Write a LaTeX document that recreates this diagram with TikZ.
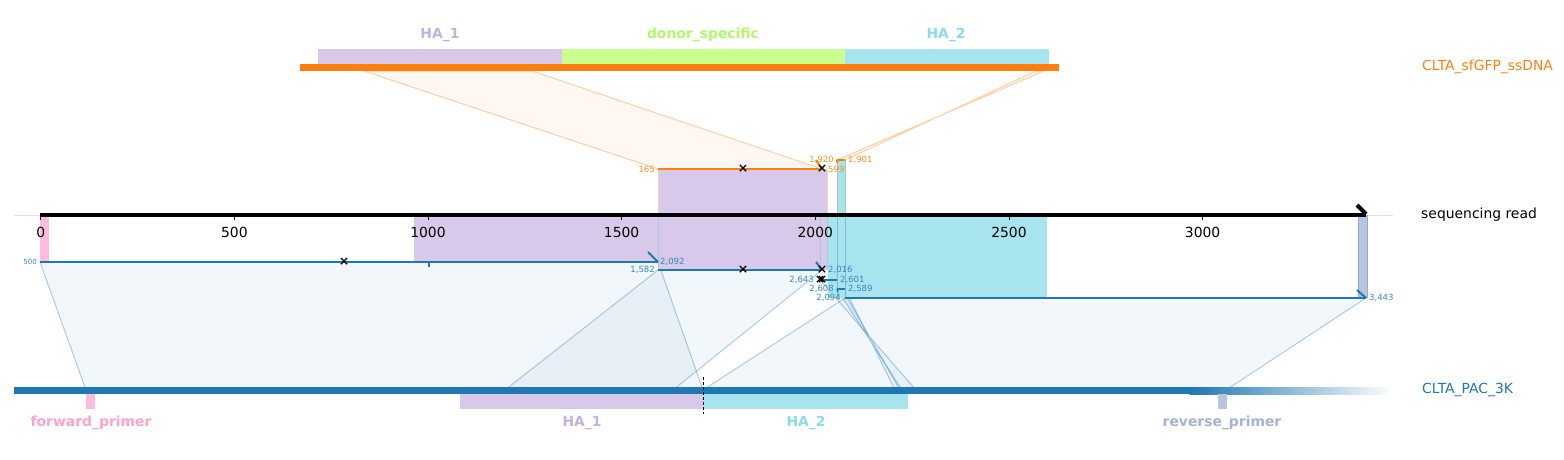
\documentclass[tikz,border=0pt]{standalone}
\usepackage{fontspec}
\setmainfont{DejaVu Sans}
\definecolor{orng}{HTML}{FF7F0E}
\definecolor{pacb}{HTML}{1F77B4}
\definecolor{haone}{HTML}{D8C8EA}
\definecolor{haonel}{HTML}{C5B0E5}
\definecolor{donor}{HTML}{C8FF8E}
\definecolor{donorl}{HTML}{B3F76A}
\definecolor{hatwo}{HTML}{A8E4EE}
\definecolor{hatwol}{HTML}{8BDBE8}
\definecolor{fwd}{HTML}{FFBBDD}
\definecolor{fwdl}{HTML}{FFA0D2}
\definecolor{rev}{HTML}{BAC4DE}
\definecolor{revl}{HTML}{A4B2D4}
\definecolor{smallb}{HTML}{3A87C0}
\definecolor{smallo}{HTML}{FF8C26}
\tikzset{
  biglab/.style={font=\fontsize{13.9}{16}\selectfont, inner sep=0pt},
  featlab/.style={font=\bfseries\fontsize{13.9}{16}\selectfont, inner sep=0pt},
  smalllab/.style={font=\fontsize{8.5}{10}\selectfont, inner sep=0pt},
  connor/.style={fill=orng, fill opacity=0.06, draw=orng, draw opacity=0.35, line width=1pt},
  connbl/.style={fill=pacb, fill opacity=0.06, draw=pacb, draw opacity=0.35, line width=1pt},
  alnb/.style={draw=pacb, line width=2pt},
  alno/.style={draw=orng, line width=2pt},
  xm/.style={font=\bfseries\fontsize{12.5}{13}\selectfont, inner sep=0pt, text=black},
}
\begin{document}
\begin{tikzpicture}[x=1pt,y=-1pt]
\useasboundingbox (0,0) rectangle (1564,459);
% ---------- coordinates ----------
\coordinate (s165) at (364,71);
\coordinate (s599) at (532,71);
\coordinate (s1920) at (1044,71);
\coordinate (s1901) at (1036,71);
\coordinate (o1l) at (658,169);
\coordinate (o1r) at (822,169);
\coordinate (o2l) at (837,160);
\coordinate (o2r) at (845,160);
\coordinate (a1l) at (40,262);
\coordinate (a1r) at (658,262);
\coordinate (a2l) at (658,270);
\coordinate (a2r) at (822,270);
\coordinate (a3l) at (820,280);
\coordinate (a3r) at (837,280);
\coordinate (a4l) at (837,289);
\coordinate (a4r) at (845,289);
\coordinate (a5l) at (845,298);
\coordinate (a5r) at (1366,298);
\coordinate (p500) at (86,390);
\coordinate (p2092) at (703,390);
\coordinate (p1582) at (505,390);
\coordinate (p2016) at (673,390);
\coordinate (p2643) at (916,390);
\coordinate (p2601) at (900,390);
\coordinate (p2608) at (902,390);
\coordinate (p2589) at (895,390);
\coordinate (p2094) at (703,390);
\coordinate (p3443) at (1226,390);

% ---------- baseline ----------
\draw[black!12, line width=0.8pt] (14,215) -- (1393,215);

% ---------- connectors ----------
\filldraw[connor] (s165) -- (o1l) -- (o1r) -- (s599) -- cycle;
\filldraw[connor] (s1920) -- (o2l) -- (o2r) -- (s1901) -- cycle;
\filldraw[connbl] (a1l) -- (p500) -- (p2092) -- (a1r) -- cycle;
\filldraw[connbl] (a2l) -- (p1582) -- (p2016) -- (a2r) -- cycle;
\filldraw[connbl] (a3l) -- (p2643) -- (p2601) -- (a3r) -- cycle;
\filldraw[connbl] (a4l) -- (p2608) -- (p2589) -- (a4r) -- cycle;
\filldraw[connbl] (a5l) -- (p2094) -- (p3443) -- (a5r) -- cycle;

% ---------- top track ----------
\fill[haone] (318,49) rectangle (562,64);
\fill[donor] (562,49) rectangle (845,64);
\fill[hatwo] (845,49) rectangle (1049,64);
\fill[orng] (300,64) rectangle (1059,71);
\node[featlab, text=haonel] (tha1) at (440,35) {HA\_1};
\node[featlab, text=donorl] (tdon) at (703,35) {donor\_specific};
\node[featlab, text=hatwol] (tha2) at (946,35) {HA\_2};
\node[biglab, text=orng, anchor=west] (lss) at (1422,67) {CLTA\_sfGFP\_ssDNA};

% ---------- read track features ----------
\fill[fwd] (40,215) rectangle (49,262);
\fill[haone] (414,215) rectangle (827,262);
\fill[haone] (658,169) rectangle (827,270);
\fill[hatwo] (828,215) rectangle (1047,298);
\fill[hatwo] (837,160) rectangle (845,298);
\fill[rev] (1358,215) rectangle (1367,298);
\draw[orng!35, line width=0.8pt] (658,169) -- (658,215) (827,169) -- (827,215);
\draw[pacb!40, line width=0.8pt] (658,215) -- (658,270) (827,215) -- (827,270) (820,215) -- (820,270);
\draw[hatwol!80!orng, line width=0.8pt] (837,160) -- (837,215) (845,160) -- (845,215);
\draw[pacb!55, line width=0.8pt] (837,215) -- (837,298) (845,215) -- (845,298);
\draw[rev!70!pacb, line width=0.8pt] (1358,215) -- (1358,298) (1367,215) -- (1367,298);

% ---------- read axis ----------
\draw[black, line width=4.5pt] (40,215) -- (1366,215);
\draw[black, line width=4pt] (1357,205) -- (1366,214);
\foreach \v/\n in {0/t0,500/t500,1000/t1000,1500/t1500,2000/t2000,2500/t2500,3000/t3000} {
  \draw[black, line width=0.8pt] ({40.7+0.3873*\v},215) -- ({40.7+0.3873*\v},220);
  \node[biglab] (\n) at ({40.7+0.3873*\v},232) {\v};
}
\node[biglab, anchor=west] (lread) at (1421,215) {sequencing read};

% ---------- alignment lines ----------
\draw[alno] (o1l) -- (o1r);
\draw[alno] (o2l) -- (o2r);
\draw[alno] (816,160) -- (o1r);
\draw[orng, line width=1.5pt] (o2l) -- ++(0,3);
\draw[alnb] (a1l) -- (a1r);
\draw[alnb] (a2l) -- (a2r);
\draw[alnb] (a3l) -- (a3r);
\draw[alnb] (a4l) -- (a4r);
\draw[alnb] (a5l) -- (a5r);
\draw[alnb] (648,252) -- (a1r);
\draw[alnb] (816,262) -- (a2r);
\draw[alnb] (1357,290) -- (a5r);
\draw[pacb, line width=1.5pt] (a4l) -- ++(1,3);
\draw[pacb, line width=1.5pt] (429,262) -- (429,267);

% mismatch marks
\node[xm] (x1) at (344,262) {×};
\node[xm] (x2) at (743,270) {×};
\node[xm] (x3) at (822,270) {×};
\node[xm] (x4) at (820,280) {×};
\node[xm] (x5) at (822,280) {×};
\node[xm] (x6) at (743,169) {×};
\node[xm] (x7) at (822,169) {×};

% coordinate labels
\node[smalllab, text=smallo, anchor=east] (l165) at (655,169) {165};
\node[smalllab, text=smallo, anchor=west] (l599) at (828,169) {599};
\node[smalllab, text=smallo, anchor=east] (l1920) at (834,160) {1,920};
\node[smalllab, text=smallo, anchor=west] (l1901) at (848,160) {1,901};
\node[smalllab, text=smallb, anchor=east, font=\fontsize{7}{8}\selectfont] (l500) at (37,262) {500};
\node[smalllab, text=smallb, anchor=west] (l2092) at (660,262) {2,092};
\node[smalllab, text=smallb, anchor=east] (l1582) at (655,270) {1,582};
\node[smalllab, text=smallb, anchor=west] (l2016) at (828,270) {2,016};
\node[smalllab, text=smallb, anchor=east] (l2643) at (814,280) {2,643};
\node[smalllab, text=smallb, anchor=west] (l2601) at (840,280) {2,601};
\node[smalllab, text=smallb, anchor=east] (l2608) at (834,289) {2,608};
\node[smalllab, text=smallb, anchor=west] (l2589) at (848,289) {2,589};
\node[smalllab, text=smallb, anchor=east] (l2094) at (841,298) {2,094};
\node[smalllab, text=smallb, anchor=west] (l3443) at (1369,298) {3,443};

% ---------- PAC track ----------
\fill[pacb] (14,387) rectangle (1190,394);
\shade[left color=pacb, right color=white] (1189.5,387) rectangle (1393,394);
\fill[fwd] (86,394) rectangle (95,409);
\fill[haone] (460,394) rectangle (703,409);
\fill[hatwo] (703,394) rectangle (908,409);
\fill[rev] (1218,394) rectangle (1227,409);
\draw[black, line width=0.8pt, dash pattern=on 3pt off 2pt] (703,377) -- (703,414);
\node[featlab, text=fwdl] (lfwd) at (91,423) {forward\_primer};
\node[featlab, text=haonel] (lha1) at (582,423) {HA\_1};
\node[featlab, text=hatwol] (lha2) at (806,423) {HA\_2};
\node[featlab, text=revl] (lrev) at (1222,423) {reverse\_primer};
\node[biglab, text=pacb, anchor=west] (lpac) at (1422,390) {CLTA\_PAC\_3K};
\end{tikzpicture}
\end{document}
